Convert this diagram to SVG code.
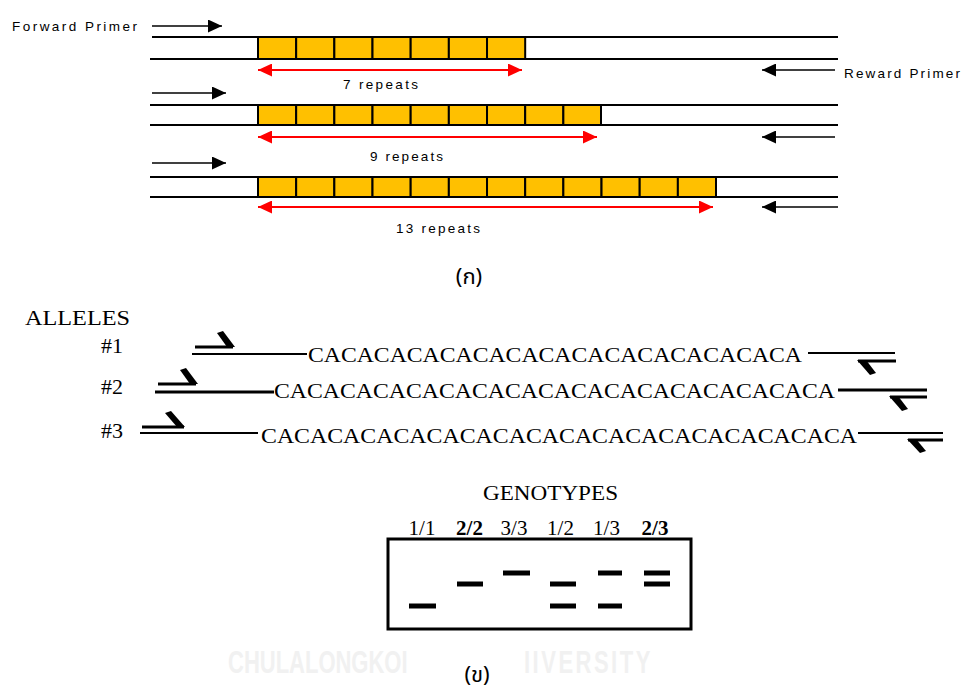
<svg xmlns="http://www.w3.org/2000/svg" width="964" height="691" viewBox="0 0 964 691">
<style>
.bg{fill:#ffffff}
.strand{stroke:#000;stroke-width:2;fill:none}
.rep{fill:#FFC000;stroke:#000;stroke-width:2}
.red{stroke:#ff0000;stroke-width:2;fill:none}
.blk{stroke:#000;stroke-width:1.6;fill:none}
.pix{font-family:"Liberation Sans","DejaVu Sans",sans-serif;font-size:13.5px;fill:#000}
.ser{font-family:"Liberation Serif","DejaVu Serif",serif;fill:#000}
.seq{font-family:"Liberation Serif","DejaVu Serif",serif;font-size:21px;fill:#000}
.thai{font-family:"Noto Sans Thai","Noto Sans","DejaVu Sans",sans-serif;font-size:22px;fill:#000}
.thin{stroke:#000;stroke-width:2;fill:none}
.thick{stroke:#000;stroke-width:3;fill:none}
.band{stroke:#000;stroke-width:5;fill:none}
.wm{font-family:"Liberation Sans",sans-serif;font-weight:bold;font-size:22px;fill:#f1f1f1}
</style>
<defs>
<marker id="rh" markerUnits="userSpaceOnUse" markerWidth="15" markerHeight="13" refX="14" refY="6.5" orient="auto-start-reverse"><path d="M0,0 L14,6.5 L0,13 z" fill="#ff0000"/></marker>
<marker id="bh" markerUnits="userSpaceOnUse" markerWidth="15" markerHeight="13" refX="14" refY="6.5" orient="auto-start-reverse"><path d="M0,0 L14,6.5 L0,13 z" fill="#000"/></marker>
</defs>
<rect class="bg" x="0" y="0" width="964" height="691"/>

<!-- watermark -->
<g id="watermark">
<text class="wm" transform="translate(228,673) scale(1,1.4)" x="0" y="0">CHULALONGKOI</text>
<text class="wm" transform="translate(524,673) scale(1,1.4)" x="0" y="0" letter-spacing="2.5">IIVERSITY</text>
</g>

<!-- Part (a) -->
<g id="labelsA">
<text class="pix" x="12" y="31" textLength="125">Forward Primer</text>
<text class="pix" x="844" y="78" textLength="116">Reward Primer</text>
</g>

<g id="row1">
<line class="strand" x1="152" y1="37" x2="838" y2="37"/>
<line class="strand" x1="150" y1="59" x2="838" y2="59"/>
<rect class="rep" x="258" y="37" width="38.17" height="22"/>
<rect class="rep" x="296.17" y="37" width="38.17" height="22"/>
<rect class="rep" x="334.34" y="37" width="38.17" height="22"/>
<rect class="rep" x="372.51" y="37" width="38.17" height="22"/>
<rect class="rep" x="410.68" y="37" width="38.17" height="22"/>
<rect class="rep" x="448.85" y="37" width="38.17" height="22"/>
<rect class="rep" x="487.02" y="37" width="38.17" height="22"/>
<text class="pix" x="343" y="89" textLength="75">7 repeats</text>
</g>

<g id="row2">
<line class="strand" x1="150" y1="105" x2="838" y2="105"/>
<line class="strand" x1="150" y1="125" x2="838" y2="125"/>
<rect class="rep" x="258" y="105" width="38.17" height="20"/>
<rect class="rep" x="296.17" y="105" width="38.17" height="20"/>
<rect class="rep" x="334.34" y="105" width="38.17" height="20"/>
<rect class="rep" x="372.51" y="105" width="38.17" height="20"/>
<rect class="rep" x="410.68" y="105" width="38.17" height="20"/>
<rect class="rep" x="448.85" y="105" width="38.17" height="20"/>
<rect class="rep" x="487.02" y="105" width="38.17" height="20"/>
<rect class="rep" x="525.19" y="105" width="38.17" height="20"/>
<rect class="rep" x="563.36" y="105" width="37.64" height="20"/>
<text class="pix" x="370" y="161" textLength="73">9 repeats</text>
</g>

<g id="row3">
<line class="strand" x1="150" y1="177" x2="838" y2="177"/>
<line class="strand" x1="150" y1="197" x2="838" y2="197"/>
<rect class="rep" x="258" y="177" width="38.17" height="20"/>
<rect class="rep" x="296.17" y="177" width="38.17" height="20"/>
<rect class="rep" x="334.34" y="177" width="38.17" height="20"/>
<rect class="rep" x="372.51" y="177" width="38.17" height="20"/>
<rect class="rep" x="410.68" y="177" width="38.17" height="20"/>
<rect class="rep" x="448.85" y="177" width="38.17" height="20"/>
<rect class="rep" x="487.02" y="177" width="38.17" height="20"/>
<rect class="rep" x="525.19" y="177" width="38.17" height="20"/>
<rect class="rep" x="563.36" y="177" width="38.17" height="20"/>
<rect class="rep" x="601.53" y="177" width="38.17" height="20"/>
<rect class="rep" x="639.70" y="177" width="38.17" height="20"/>
<rect class="rep" x="677.87" y="177" width="38.13" height="20"/>
<text class="pix" x="396" y="233" textLength="84">13 repeats</text>
</g>

<g id="connectors">
<line class="blk" x1="152" y1="26" x2="222" y2="26" marker-end="url(#bh)"/>
<line class="blk" x1="152" y1="93" x2="226" y2="93" marker-end="url(#bh)"/>
<line class="blk" x1="152" y1="163" x2="226" y2="163" marker-end="url(#bh)"/>
<line class="blk" x1="835" y1="70" x2="762" y2="70" marker-end="url(#bh)"/>
<line class="blk" x1="835" y1="137" x2="762" y2="137" marker-end="url(#bh)"/>
<line class="blk" x1="838" y1="207" x2="762" y2="207" marker-end="url(#bh)"/>
<line class="red" x1="258" y1="70" x2="522" y2="70" marker-start="url(#rh)" marker-end="url(#rh)"/>
<line class="red" x1="258" y1="137" x2="597" y2="137" marker-start="url(#rh)" marker-end="url(#rh)"/>
<line class="red" x1="258" y1="207" x2="713" y2="207" marker-start="url(#rh)" marker-end="url(#rh)"/>
</g>

<text class="thai" x="469" y="284" text-anchor="middle">(ก)</text>

<!-- Part (b) -->
<g id="alleles">
<text class="ser" x="25" y="325" font-size="20" textLength="105" lengthAdjust="spacingAndGlyphs">ALLELES</text>
<text class="ser" x="123" y="353" font-size="22" text-anchor="end">#1</text>
<text class="ser" x="123" y="394" font-size="22" text-anchor="end">#2</text>
<text class="ser" x="123" y="438" font-size="22" text-anchor="end">#3</text>
</g>

<g id="allele1">
<line class="thick" x1="195" y1="347" x2="233" y2="347"/>
<polygon points="217,333 223,331 235,347 227,347" fill="#000"/>
<line class="thin" x1="192" y1="354" x2="307" y2="354"/>
<text class="seq" x="308" y="362" textLength="494" lengthAdjust="spacingAndGlyphs">CACACACACACACACACACACACACACACA</text>
<line class="thin" x1="808" y1="353" x2="895" y2="353"/>
<line class="thick" x1="858" y1="361" x2="896" y2="361"/>
<polygon points="857,360 866,360 876,373 870,375" fill="#000"/>
</g>

<g id="allele2">
<line class="thick" x1="158" y1="384" x2="196" y2="384"/>
<polygon points="180,370 186,368 198,384 190,384" fill="#000"/>
<line class="thick" x1="155" y1="392" x2="274" y2="392"/>
<text class="seq" x="274" y="398" textLength="561" lengthAdjust="spacingAndGlyphs">CACACACACACACACACACACACACACACACACA</text>
<line class="thick" x1="838" y1="390" x2="927" y2="390"/>
<line class="thick" x1="890" y1="397" x2="927" y2="397"/>
<polygon points="889,396 898,396 908,409 902,411" fill="#000"/>
</g>

<g id="allele3">
<line class="thick" x1="142" y1="427" x2="184" y2="427"/>
<polygon points="165,413 171,411 185,427 177,427" fill="#000"/>
<line class="thin" x1="140" y1="433" x2="258" y2="433"/>
<text class="seq" x="261" y="443" textLength="596" lengthAdjust="spacingAndGlyphs">CACACACACACACACACACACACACACACACACACA</text>
<line class="thin" x1="858" y1="433" x2="943" y2="433"/>
<line class="thick" x1="908" y1="440" x2="943" y2="440"/>
<polygon points="907,439 916,439 926,451 920,453" fill="#000"/>
</g>

<g id="genotypes">
<text class="ser" x="483" y="500" font-size="20" textLength="135" lengthAdjust="spacingAndGlyphs">GENOTYPES</text>
<text class="ser" x="422" y="535" font-size="21" text-anchor="middle">1/1</text>
<text class="ser" x="469.5" y="535" font-size="21" text-anchor="middle" font-weight="bold">2/2</text>
<text class="ser" x="514" y="535" font-size="21" text-anchor="middle">3/3</text>
<text class="ser" x="560.5" y="535" font-size="21" text-anchor="middle">1/2</text>
<text class="ser" x="606.5" y="535" font-size="21" text-anchor="middle">1/3</text>
<text class="ser" x="655" y="535" font-size="21" text-anchor="middle" font-weight="bold">2/3</text>
</g>

<g id="gel">
<rect x="388" y="539" width="303" height="90" fill="none" stroke="#000" stroke-width="3"/>
<line class="band" x1="409" y1="606" x2="436" y2="606"/>
<line class="band" x1="457" y1="584" x2="483" y2="584"/>
<line class="band" x1="503" y1="573" x2="530" y2="573"/>
<line class="band" x1="550" y1="584" x2="576" y2="584"/>
<line class="band" x1="550" y1="606" x2="576" y2="606"/>
<line class="band" x1="598" y1="573" x2="622" y2="573"/>
<line class="band" x1="598" y1="606" x2="622" y2="606"/>
<line class="band" x1="644" y1="573" x2="670" y2="573"/>
<line class="band" x1="644" y1="584" x2="670" y2="584"/>
</g>

<text class="thai" x="477" y="682" text-anchor="middle">(ข)</text>
</svg>
